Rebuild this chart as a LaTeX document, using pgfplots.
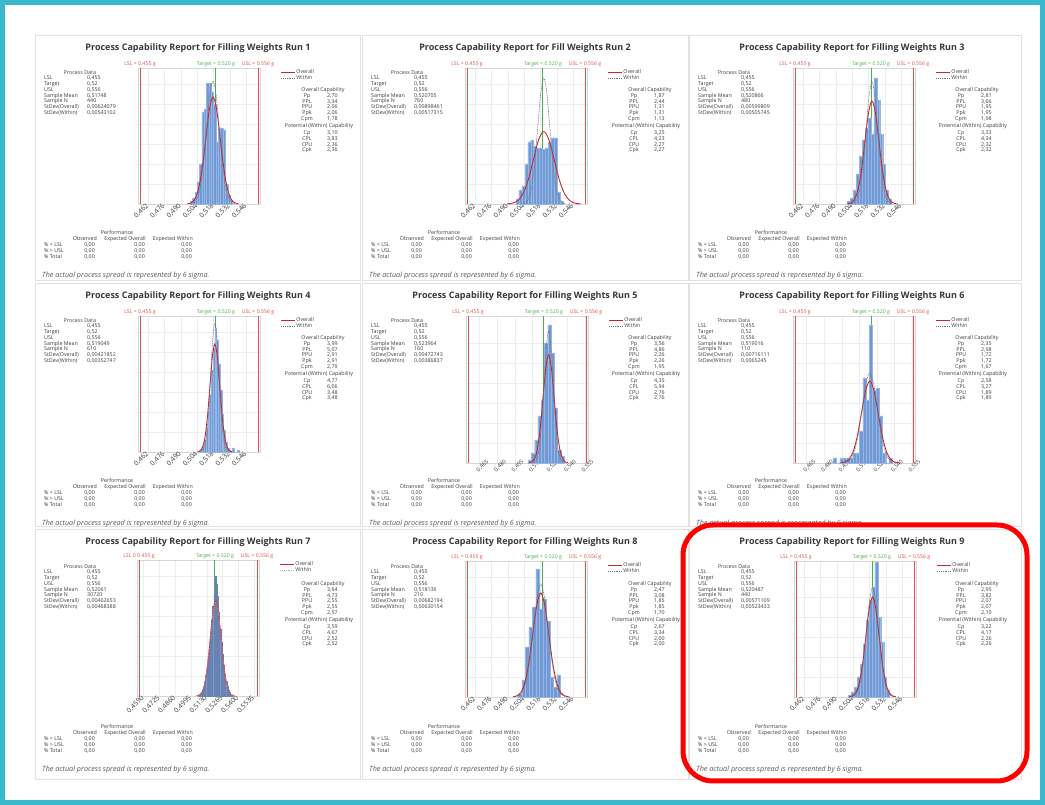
\documentclass[border=0pt]{standalone}
\usepackage{fontspec}
\setmainfont{Open Sans}
\usepackage{pgfplots}
\pgfplotsset{compat=1.18}

\definecolor{cHist}{RGB}{112,153,214}
\definecolor{cHistE}{RGB}{150,182,228}
\definecolor{cHistD}{RGB}{105,130,175}
\definecolor{cOvr}{RGB}{200,40,45}
\definecolor{cSpec}{RGB}{222,80,80}
\definecolor{cTgt}{RGB}{70,178,80}
\definecolor{cCyan}{RGB}{58,184,204}
\definecolor{cTxt}{RGB}{60,60,60}
\definecolor{cFrame}{RGB}{225,225,225}

\newcommand\tf{\fontsize{5.3}{6}\selectfont}

\tikzset{
  tx/.style={anchor=base west, inner sep=0pt, font=\tf, text=cTxt},
  txc/.style={tx, anchor=base},
  txr/.style={tx, anchor=base east},
  sl/.style={anchor=south, inner sep=0.8pt, font=\fontsize{5.2}{6}\selectfont},
}

\pgfplotsset{
  cap/.style={
    scale only axis, width=122pt, height=136pt,
    xmin=0.4533, xmax=0.5577, ymin=0, ymax=136, clip=false,
    axis line style={black!16}, xmajorgrids, ymajorgrids,
    grid style={black!7, line width=0.4pt},
    ytick={20,40,60,80,100,120}, yticklabels={}, major tick length=0pt,
    scaled x ticks=false,
    xtick={0.462,0.476,0.490,0.504,0.518,0.532,0.546},
    xticklabel style={font=\fontsize{6.8}{7}\selectfont, text=cTxt,
      rotate=45, anchor=east, inner sep=1pt,
      /pgf/number format/fixed, /pgf/number format/fixed zerofill,
      /pgf/number format/precision=3, /pgf/number format/use comma,
      /pgf/number format/assume math mode=true},
    legend style={at={(1.17,0.995)}, anchor=north west, draw=none, fill=none,
      font=\tf, inner sep=0pt, row sep=-0.6pt, cells={anchor=west},
      nodes={inner sep=0.6pt, text=cTxt}},
    legend image code/.code={\draw[##1] (0pt,0pt) -- (14pt,0pt);},
  },
  cap2/.style={cap, height=147pt, ymax=147,
    xtick={0.465,0.480,0.495,0.510,0.525,0.540,0.555},
    xticklabel style={rotate=0, anchor=north, inner sep=1.5pt, font=\fontsize{5.6}{6}\selectfont}},
  hist/.style={ybar interval, fill=cHist, draw=cHistE, line width=0.25pt, forget plot},
  ovrc/.style={color=cOvr, line width=0.9pt, smooth, no marks},
  wthc/.style={color=black!55, dash pattern=on 1pt off 0.8pt, line width=0.6pt, smooth, no marks},
  specl/.style={color=cSpec, line width=0.9pt, no marks, forget plot},
  tgtl/.style={color=cTgt, line width=0.9pt, no marks, forget plot},
}

% target line, drawn behind the bars
\newcommand\tline[1]{\addplot[tgtl] coordinates {(0.520,0) (0.520,#1)};}
% spec limit lines and labels
\newcommand\specs[2]{%
  \addplot[specl] coordinates {(0.455,0) (0.455,#1)};
  \addplot[specl] coordinates {(0.556,0) (0.556,#1)};
  \node[sl, text=cSpec] at (axis cs:0.455,#1) {#2};
  \node[sl, text=cTgt] at (axis cs:0.520,#1) {Target = 0.520 g};
  \node[sl, text=cSpec] at (axis cs:0.556,#1) {USL = 0.556 g};}

\newcommand\ptitle[1]{\node[anchor=base, inner sep=0pt,
  font=\bfseries\fontsize{9}{10}\selectfont, text=black!78] at (163,-16) {#1};}

\newcommand\pdata[4]{%
  \node[txc] at (45,-39.5) {Process Data};
  \node[tx] at (9,-45) {LSL};             \node[tx] at (52,-45) {0,455};
  \node[tx] at (9,-50.7) {Target};        \node[tx] at (52,-50.7) {0,52};
  \node[tx] at (9,-56.4) {USL};           \node[tx] at (52,-56.4) {0,556};
  \node[tx] at (9,-62.1) {Sample Mean};   \node[tx] at (52,-62.1) {#1};
  \node[tx] at (9,-67.8) {Sample N};      \node[tx] at (52,-67.8) {#2};
  \node[tx] at (9,-73.5) {StDev(Overall)};\node[tx] at (52,-73.5) {#3};
  \node[tx] at (9,-79.2) {StDev(Within)}; \node[tx] at (52,-79.2) {#4};}

\newcommand\ocap[5]{%
  \node[txc] at (288,-56.8) {Overall Capability};
  \node[txc] at (272,-62.5) {Pp};  \node[tx] at (292,-62.5) {#1};
  \node[txc] at (272,-68.2) {PPL}; \node[tx] at (292,-68.2) {#2};
  \node[txc] at (272,-73.9) {PPU}; \node[tx] at (292,-73.9) {#3};
  \node[txc] at (272,-79.6) {Ppk}; \node[tx] at (292,-79.6) {#4};
  \node[txc] at (272,-85.3) {Cpm}; \node[tx] at (292,-85.3) {#5};}

\newcommand\wcap[4]{%
  \node[txc] at (284,-92.5) {Potential (Within) Capability};
  \node[txc] at (272,-99.8) {Cp};   \node[tx] at (292,-99.8) {#1};
  \node[txc] at (272,-105.5) {CPL}; \node[tx] at (292,-105.5) {#2};
  \node[txc] at (272,-111.2) {CPU}; \node[tx] at (292,-111.2) {#3};
  \node[txc] at (272,-116.9) {Cpk}; \node[tx] at (292,-116.9) {#4};}

\newcommand\perf{%
  \node[txc] at (82,-200) {Performance};
  \node[txr] at (62,-205.8) {Observed};
  \node[txr] at (111,-205.8) {Expected Overall};
  \node[txr] at (158,-205.8) {Expected Within};
  \node[tx] at (9,-211.7) {\% < LSL};
  \node[txr] at (60,-211.7) {0,00}; \node[txr] at (110,-211.7) {0,00}; \node[txr] at (157,-211.7) {0,00};
  \node[tx] at (9,-217.4) {\% > USL};
  \node[txr] at (60,-217.4) {0,00}; \node[txr] at (110,-217.4) {0,00}; \node[txr] at (157,-217.4) {0,00};
  \node[tx] at (9,-223.1) {\% Total};
  \node[txr] at (60,-223.1) {0,00}; \node[txr] at (110,-223.1) {0,00}; \node[txr] at (157,-223.1) {0,00};
  \node[anchor=base west, inner sep=0pt, font=\itshape\fontsize{7.2}{8}\selectfont, text=black!65]
    at (7,-242.5) {The actual process spread is represented by 6 sigma.};}

\begin{document}
\begin{tikzpicture}[x=1pt,y=1pt]
\useasboundingbox (0,0) rectangle (1045,805);
\fill[white] (0,0) rectangle (1045,805);

% ---------------- Run 1
\begin{scope}[shift={(35,770)}]
\draw[cFrame] (0,0) rectangle (325,-245);
\ptitle{Process Capability Report for Filling Weights Run 1}
\pdata{0,51748}{440}{0,00624079}{0,00543102}
\ocap{2,70}{3,34}{2,06}{2,06}{1,78}
\wcap{3,10}{3,83}{2,36}{2,36}
\perf
\begin{axis}[cap, at={(103pt,-169pt)}]
\tline{136}
\addplot[hist] coordinates {(0.498,3) (0.500,6) (0.502,12) (0.504,22) (0.506,40) (0.508,92) (0.510,95) (0.512,121) (0.514,121) (0.516,112) (0.518,100) (0.520,62) (0.522,76) (0.524,76) (0.526,74) (0.528,20) (0.530,9) (0.532,4) (0.534,0)};
\addplot[ovrc] coordinates {(0.49564,0.24) (0.49876,1.19) (0.50188,4.70) (0.50500,14.48) (0.50812,34.74) (0.51124,64.90) (0.51436,94.43) (0.51748,107) (0.52060,94.43) (0.52372,64.90) (0.52684,34.74) (0.52996,14.48) (0.53308,4.70) (0.53620,1.19) (0.53932,0.24)};
\addplot[wthc] coordinates {(0.49847,0.27) (0.50119,1.37) (0.50390,5.40) (0.50662,16.64) (0.50933,39.94) (0.51205,74.60) (0.51476,108.55) (0.51748,123) (0.52020,108.55) (0.52291,74.60) (0.52563,39.94) (0.52834,16.64) (0.53106,5.40) (0.53377,1.37) (0.53649,0.27)};
\specs{136}{LSL = 0.455 g}
\legend{Overall,Within}
\end{axis}
\end{scope}

% ---------------- Run 2
\begin{scope}[shift={(362,770)}]
\draw[cFrame] (0,0) rectangle (326,-245);
\ptitle{Process Capability Report for Fill Weights Run 2}
\pdata{0,520705}{760}{0,00898461}{0,00517315}
\ocap{1,87}{2,44}{1,31}{1,31}{1,13}
\wcap{3,25}{4,23}{2,27}{2,27}
\perf
\begin{axis}[cap, at={(103pt,-169pt)}]
\tline{136}
\addplot[hist] coordinates {(0.4970,5) (0.4995,14) (0.5020,18) (0.5045,40) (0.5070,62) (0.5095,64) (0.5120,58) (0.5145,56) (0.5170,56) (0.5195,55) (0.5220,56) (0.5245,62) (0.5270,66) (0.5295,66) (0.5320,12) (0.5345,3) (0.5370,0)};
\addplot[ovrc] coordinates {(0.48926,0.16) (0.49375,0.80) (0.49824,3.18) (0.50274,9.81) (0.50723,23.54) (0.51172,43.97) (0.51621,63.98) (0.52070,72.5) (0.52520,63.98) (0.52969,43.97) (0.53418,23.54) (0.53867,9.81) (0.54317,3.18) (0.54766,0.80) (0.55215,0.16)};
\addplot[wthc] coordinates {(0.50260,0.28) (0.50519,1.40) (0.50777,5.53) (0.51036,17.05) (0.51295,40.91) (0.51553,76.42) (0.51812,111.2) (0.52070,126) (0.52329,111.2) (0.52588,76.42) (0.52847,40.91) (0.53105,17.05) (0.53364,5.53) (0.53622,1.40) (0.53881,0.28)};
\specs{136}{LSL = 0.455 g}
\legend{Overall,Within}
\end{axis}
\end{scope}

% ---------------- Run 3
\begin{scope}[shift={(689,770)}]
\draw[cFrame] (0,0) rectangle (332,-245);
\ptitle{Process Capability Report for Filling Weights Run 3}
\pdata{0,520866}{480}{0,00599809}{0,00505745}
\ocap{2,81}{3,66}{1,95}{1,95}{1,98}
\wcap{3,33}{4,34}{2,32}{2,32}
\perf
\begin{axis}[cap, at={(104pt,-169pt)}]
\tline{136}
\addplot[hist] coordinates {(0.5000,3) (0.5025,6) (0.5050,14) (0.5075,30) (0.5100,48) (0.5125,64) (0.5150,76) (0.5175,86) (0.5200,70) (0.5225,126) (0.5250,104) (0.5275,70) (0.5300,40) (0.5325,14) (0.5350,5) (0.5375,0)};
\addplot[ovrc] coordinates {(0.49987,0.23) (0.50287,1.14) (0.50587,4.52) (0.50887,13.94) (0.51187,33.44) (0.51487,62.47) (0.51787,90.90) (0.52087,103) (0.52387,90.90) (0.52686,62.47) (0.52986,33.44) (0.53286,13.94) (0.53586,4.52) (0.53886,1.14) (0.54186,0.23)};
\addplot[wthc] coordinates {(0.50317,0.27) (0.50569,1.35) (0.50822,5.36) (0.51075,16.51) (0.51328,39.61) (0.51581,74.0) (0.51834,107.67) (0.52087,122) (0.52340,107.67) (0.52592,74.0) (0.52845,39.61) (0.53098,16.51) (0.53351,5.36) (0.53604,1.35) (0.53857,0.27)};
\specs{136}{LSL = 0.455 g}
\legend{Overall,Within}
\end{axis}
\end{scope}

% ---------------- Run 4
\begin{scope}[shift={(35,522)}]
\draw[cFrame] (0,0) rectangle (325,-243);
\ptitle{Process Capability Report for Filling Weights Run 4}
\pdata{0,519049}{610}{0,00421852}{0,00352747}
\ocap{3,99}{5,07}{2,91}{2,91}{2,79}
\wcap{4,77}{6,06}{3,48}{3,48}
\perf
\begin{axis}[cap, at={(103pt,-169pt)}]
\tline{136}
\addplot[hist] coordinates {(0.5055,1) (0.5070,3) (0.5085,6) (0.5100,12) (0.5115,24) (0.5130,40) (0.5145,58) (0.5160,82) (0.5175,104) (0.5190,124) (0.5205,112) (0.5220,88) (0.5235,62) (0.5250,38) (0.5265,22) (0.5280,10) (0.5295,4) (0.5310,2) (0.5325,1) (0.5340,4) (0.5355,0) (0.5370,0) (0.5385,2) (0.5400,0)};
\addplot[ovrc] coordinates {(0.50428,0.24) (0.50639,1.20) (0.50850,4.74) (0.51061,14.62) (0.51272,35.07) (0.51483,65.5) (0.51694,95.31) (0.51905,108) (0.52116,95.31) (0.52327,65.5) (0.52538,35.07) (0.52749,14.62) (0.52960,4.74) (0.53171,1.20) (0.53381,0.24)};
\addplot[wthc] coordinates {(0.50670,0.28) (0.50847,1.43) (0.51023,5.66) (0.51199,17.46) (0.51376,41.89) (0.51552,78.24) (0.51729,113.84) (0.51905,129) (0.52081,113.84) (0.52258,78.24) (0.52434,41.89) (0.52610,17.46) (0.52787,5.66) (0.52963,1.43) (0.53140,0.28)};
\specs{136}{LSL = 0.455 g}
\legend{Overall,Within}
\end{axis}
\end{scope}

% ---------------- Run 5
\begin{scope}[shift={(362,522)}]
\draw[cFrame] (0,0) rectangle (326,-243);
\ptitle{Process Capability Report for Filling Weights Run 5}
\pdata{0,523964}{160}{0,00472743}{0,00386837}
\ocap{3,56}{4,86}{2,26}{2,26}{1,95}
\wcap{4,35}{5,94}{2,76}{2,76}
\perf
\begin{axis}[cap2, at={(104pt,-180pt)}]
\tline{147}
\addplot[hist] coordinates {(0.5065,3) (0.5093,10) (0.5121,23) (0.5149,47) (0.5177,63) (0.5205,120) (0.5233,138) (0.5261,110) (0.5289,55) (0.5317,13) (0.5345,7) (0.5373,0)};
\addplot[ovrc] coordinates {(0.50742,0.24) (0.50978,1.20) (0.51215,4.74) (0.51451,14.62) (0.51687,35.07) (0.51924,65.5) (0.52160,95.31) (0.52396,108) (0.52633,95.31) (0.52869,65.5) (0.53106,35.07) (0.53342,14.62) (0.53578,4.74) (0.53815,1.20) (0.54051,0.24)};
\addplot[wthc] coordinates {(0.51043,0.29) (0.51236,1.47) (0.51429,5.80) (0.51623,17.86) (0.51816,42.86) (0.52010,80.06) (0.52203,116.49) (0.52396,132) (0.52590,116.49) (0.52783,80.06) (0.52977,42.86) (0.53170,17.86) (0.53364,5.80) (0.53557,1.47) (0.53750,0.29)};
\specs{147}{LSL = 0.455 g}
\legend{Overall,Within}
\end{axis}
\end{scope}

% ---------------- Run 6
\begin{scope}[shift={(689,522)}]
\draw[cFrame] (0,0) rectangle (332,-243);
\ptitle{Process Capability Report for Filling Weights Run 6}
\pdata{0,519016}{110}{0,00716111}{0,0065245}
\ocap{2,35}{2,98}{1,72}{1,72}{1,67}
\wcap{2,58}{3,27}{1,89}{1,89}
\perf
\begin{axis}[cap2, at={(104pt,-180pt)}]
\tline{147}
\addplot[hist] coordinates {(0.4878,5) (0.4906,0) (0.4934,5) (0.4962,5) (0.4990,5) (0.5018,5) (0.5046,10) (0.5074,10) (0.5102,32) (0.5130,85) (0.5158,63) (0.5186,138) (0.5214,73) (0.5242,75) (0.5270,47) (0.5298,10) (0.5326,0) (0.5354,5) (0.5382,0)};
\addplot[ovrc] coordinates {(0.49395,0.18) (0.49753,0.91) (0.50111,3.60) (0.50469,11.10) (0.50827,26.62) (0.51186,49.73) (0.51544,72.37) (0.51902,82) (0.52260,72.37) (0.52618,49.73) (0.52976,26.62) (0.53334,11.10) (0.53692,3.60) (0.54050,0.91) (0.54408,0.18)};
\addplot[wthc] coordinates {(0.49618,0.20) (0.49944,1.00) (0.50270,3.95) (0.50597,12.18) (0.50923,29.22) (0.51249,54.59) (0.51575,79.43) (0.51902,90) (0.52228,79.43) (0.52554,54.59) (0.52880,29.22) (0.53207,12.18) (0.53533,3.95) (0.53859,1.00) (0.54185,0.20)};
\specs{147}{LSL = 0.455 g}
\legend{Overall,Within}
\end{axis}
\end{scope}

% ---------------- Run 7
\begin{scope}[shift={(35,276)}]
\draw[cFrame] (0,0) rectangle (325,-250);
\ptitle{Process Capability Report for Filling Weights Run 7}
\pdata{0,52061}{30720}{0,00462653}{0,00468388}
\ocap{3,64}{4,73}{2,55}{2,55}{2,57}
\wcap{3,59}{4,67}{2,52}{2,52}
\perf
\begin{axis}[cap, at={(102pt,-167pt)},
  xtick={0.4590,0.4725,0.4860,0.4995,0.5130,0.5265,0.5400,0.5535},
  xticklabel style={/pgf/number format/precision=4}]
\tline{136}
\addplot[hist, draw=cHistD] coordinates {(0.506,1) (0.507,2) (0.508,3) (0.509,5) (0.510,9) (0.511,14) (0.512,21) (0.513,29) (0.514,40) (0.515,52) (0.516,64) (0.517,76) (0.518,90) (0.519,102) (0.520,120) (0.521,112) (0.522,100) (0.523,84) (0.524,67) (0.525,54) (0.526,42) (0.527,31) (0.528,22) (0.529,15) (0.530,10) (0.531,6) (0.532,4) (0.533,2) (0.534,1) (0.535,0)};
\addplot[ovrc] coordinates {(0.50442,0.21) (0.50673,1.05) (0.50904,4.17) (0.51136,12.85) (0.51367,30.85) (0.51598,57.62) (0.51830,83.84) (0.52061,95) (0.52292,83.84) (0.52524,57.62) (0.52755,30.85) (0.52986,12.85) (0.53218,4.17) (0.53449,1.05) (0.53680,0.21)};
\addplot[wthc, black!30] coordinates {(0.50422,0.21) (0.50656,1.04) (0.50890,4.13) (0.51124,12.72) (0.51358,30.52) (0.51593,57.01) (0.51827,82.96) (0.52061,94) (0.52295,82.96) (0.52529,57.01) (0.52764,30.52) (0.52998,12.72) (0.53232,4.13) (0.53466,1.04) (0.53700,0.21)};
\specs{136}{LSL 0 0.455 g}
\legend{Overall,Within}
\end{axis}
\end{scope}

% ---------------- Run 8
\begin{scope}[shift={(362,276)}]
\draw[cFrame] (0,0) rectangle (326,-250);
\ptitle{Process Capability Report for Filling Weights Run 8}
\pdata{0,518136}{210}{0,00682194}{0,00630154}
\ocap{2,47}{3,08}{1,85}{1,85}{1,70}
\wcap{2,67}{3,34}{2,00}{2,00}
\perf
\begin{axis}[cap, at={(103pt,-168pt)}]
\tline{136}
\addplot[hist] coordinates {(0.4990,3) (0.5020,17) (0.5050,50) (0.5080,70) (0.5110,90) (0.5140,128) (0.5170,88) (0.5200,98) (0.5230,76) (0.5260,20) (0.5290,10) (0.5320,22) (0.5350,0)};
\addplot[ovrc] coordinates {(0.49426,0.23) (0.49767,1.15) (0.50108,4.57) (0.50449,14.07) (0.50790,33.77) (0.51131,63.08) (0.51473,91.78) (0.51814,104) (0.52155,91.78) (0.52496,63.08) (0.52837,33.77) (0.53178,14.07) (0.53519,4.57) (0.53860,1.15) (0.54201,0.23)};
\addplot[wthc] coordinates {(0.49608,0.25) (0.49923,1.25) (0.50238,4.96) (0.50553,15.29) (0.50868,36.69) (0.51183,68.53) (0.51499,99.72) (0.51814,113) (0.52129,99.72) (0.52444,68.53) (0.52759,36.69) (0.53074,15.29) (0.53389,4.96) (0.53704,1.25) (0.54019,0.25)};
\specs{136}{LSL = 0.455 g}
\legend{Overall,Within}
\end{axis}
\end{scope}

% ---------------- Run 9
\begin{scope}[shift={(689,276)}]
\draw[cFrame] (0,0) rectangle (332,-250);
\ptitle{Process Capability Report for Filling Weights Run 9}
\pdata{0,520487}{440}{0,00571109}{0,00523433}
\ocap{2,95}{3,82}{2,07}{2,07}{2,10}
\wcap{3,22}{4,17}{2,26}{2,26}
\perf
\begin{axis}[cap, at={(105pt,-168pt)}]
\tline{136}
\addplot[hist] coordinates {(0.5000,2) (0.5025,5) (0.5050,10) (0.5075,20) (0.5100,33) (0.5125,53) (0.5150,77) (0.5175,97) (0.5200,110) (0.5225,135) (0.5250,80) (0.5275,55) (0.5300,20) (0.5325,7) (0.5350,0)};
\addplot[ovrc] coordinates {(0.50050,0.22) (0.50335,1.11) (0.50621,4.39) (0.50907,13.53) (0.51192,32.47) (0.51478,60.65) (0.51763,88.25) (0.52049,100) (0.52334,88.25) (0.52620,60.65) (0.52905,32.47) (0.53191,13.53) (0.53477,4.39) (0.53762,1.11) (0.54048,0.22)};
\addplot[wthc] coordinates {(0.50217,0.24) (0.50478,1.21) (0.50740,4.79) (0.51002,14.75) (0.51264,35.39) (0.51525,66.11) (0.51787,96.19) (0.52049,109) (0.52310,96.19) (0.52572,66.11) (0.52834,35.39) (0.53096,14.75) (0.53357,4.79) (0.53619,1.21) (0.53881,0.24)};
\specs{136}{LSL = 0.455 g}
\legend{Overall,Within}
\end{axis}
\end{scope}

% highlight and outer frame
\draw[red, line width=5pt, rounded corners=30pt] (683,280) rectangle (1027,24);
\draw[cCyan, line width=5pt] (2.5,2.5) rectangle (1042.5,802.5);
\end{tikzpicture}
\end{document}
